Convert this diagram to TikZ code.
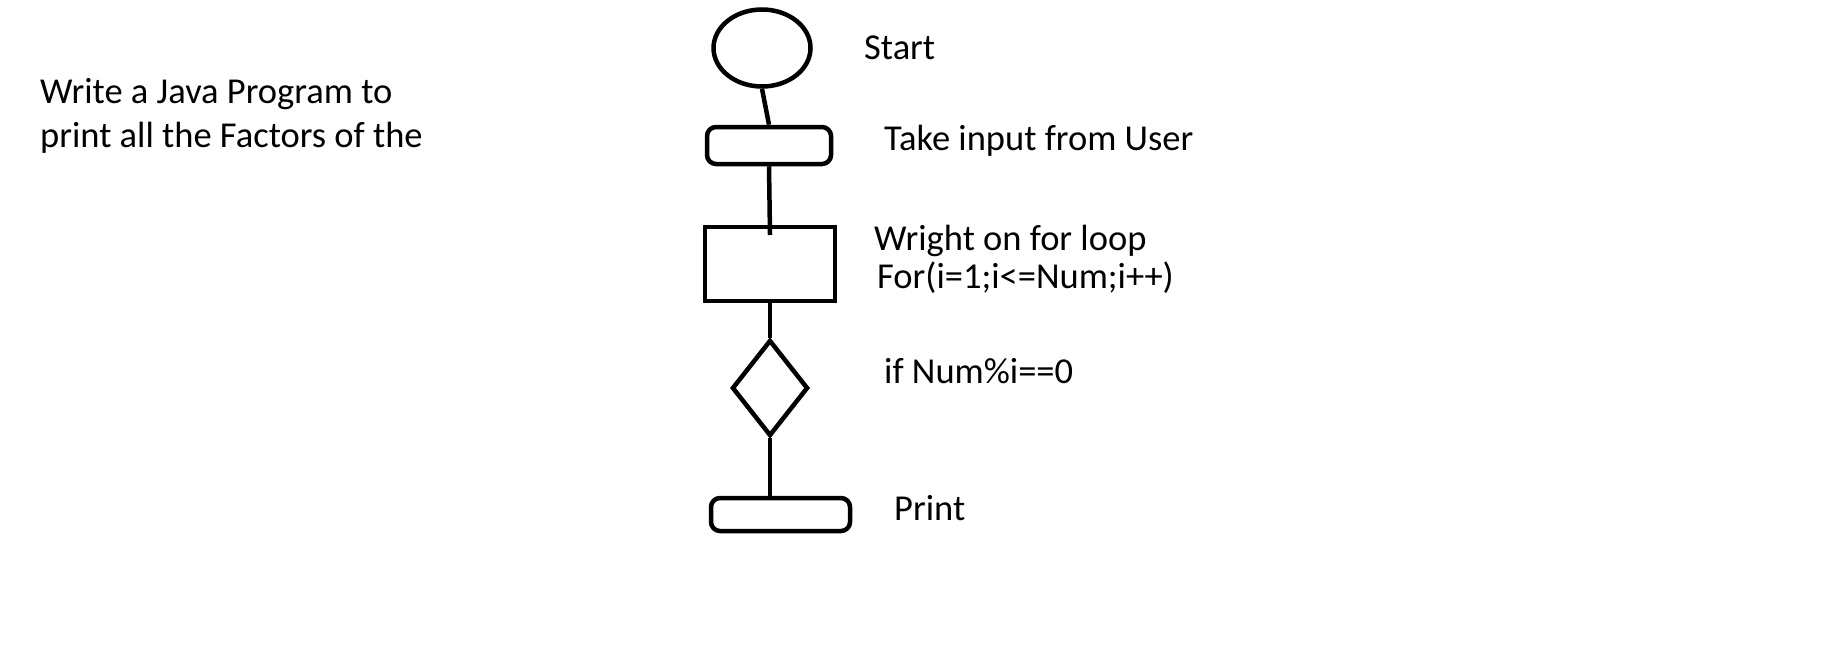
\documentclass[tikz,border=0pt]{standalone}
\usepackage{fontspec}
\setmainfont{Carlito}
\usetikzlibrary{shapes.geometric}
\begin{document}
\begin{tikzpicture}[x=1pt,y=-1pt,
  shape line/.style={draw=black,line width=4.5pt},
  conn/.style={draw=black,line width=4.5pt},
  lbl/.style={anchor=base west,inner sep=0pt,font=\fontsize{36.5}{42}\selectfont},
  startnode/.style={shape line,ellipse,minimum width=97pt,minimum height=77pt,inner sep=0pt},
  iobox/.style={shape line,rectangle,rounded corners=9pt,inner sep=0pt},
  procbox/.style={shape line,rectangle,inner sep=0pt,minimum width=130pt,minimum height=74pt},
  decision/.style={shape line,diamond,inner sep=0pt,minimum width=76pt,minimum height=96pt}]
\useasboundingbox (0,0) rectangle (1825,664);
\fill[white] (0,0) rectangle (1825,664);
% shapes
\node[startnode] (start) at (762,48) {};
\node[iobox,minimum width=124pt,minimum height=37pt] (input) at (769,145.5) {};
\node[procbox] (loop) at (770,264) {};
\node[decision] (cond) at (770,388) {};
\node[iobox,minimum width=139pt,minimum height=33pt] (print) at (780.5,514.5) {};
\coordinate (loopin) at (770,235);
% connectors
\draw[conn] (start.south) -- (input.north);
\draw[conn] (input.south) -- (loopin);
\draw[conn] (loop.south) -- (cond.north);
\draw[conn] (cond.south) -- (print.north -| cond.south);
% labels
\node[lbl] (lstart) at (864,59) {Start};
\node[lbl] (linput) at (884,150) {Take input from User};
\node[lbl] (lloop1) at (874,250) {Wright on for loop};
\node[lbl] (lloop2) at (877,288) {For(i=1;i<=Num;i++)};
\node[lbl] (lcond) at (884,383) {if Num\%i==0};
\node[lbl] (lprint) at (894,520) {Print};
\node[lbl] (title1) at (40,103) {Write a Java Program to};
\node[lbl] (title2) at (40,147) {print all the Factors of the};
\end{tikzpicture}
\end{document}
